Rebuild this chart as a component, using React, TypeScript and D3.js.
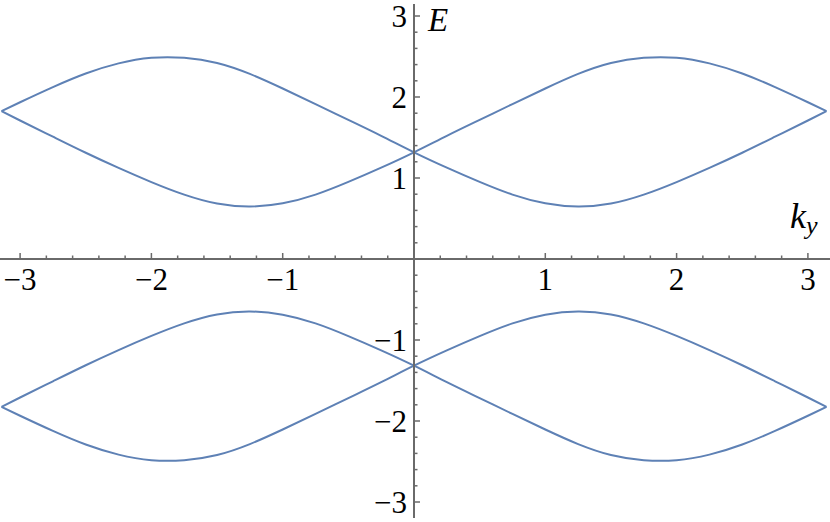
import React from "react";
import * as d3 from "d3";

// k_y sample points (read along the horizontal axis)
const kValues = [
  -Math.PI, -3, -2.75, -2.5, -2.25, -2, -1.75, -1.5, -1.25, -1, -0.75, -0.5, -0.25,
  0, 0.25, 0.5, 0.75, 1, 1.25, 1.5, 1.75, 2, 2.25, 2.5, 2.75, 3, Math.PI,
];

// upper band, branch that peaks on the left
const upperLeftPeak = [
  1.825, 1.935, 2.122, 2.29, 2.415, 2.484, 2.484, 2.42, 2.285, 2.105, 1.913, 1.717, 1.52,
  1.317, 1.128, 0.952, 0.795, 0.688, 0.648, 0.685, 0.795, 0.95, 1.125, 1.312, 1.51, 1.71, 1.825,
];
// upper band, branch that peaks on the right
const upperRightPeak = [
  1.825, 1.71, 1.51, 1.312, 1.125, 0.95, 0.795, 0.685, 0.648, 0.688, 0.795, 0.952, 1.128,
  1.317, 1.52, 1.717, 1.913, 2.105, 2.285, 2.42, 2.484, 2.484, 2.415, 2.29, 2.122, 1.935, 1.825,
];
// lower band
const lowerLeftDip = [
  -1.825, -1.935, -2.122, -2.29, -2.415, -2.484, -2.484, -2.42, -2.285, -2.105, -1.913, -1.717, -1.52,
  -1.317, -1.128, -0.952, -0.795, -0.688, -0.648, -0.685, -0.795, -0.95, -1.125, -1.312, -1.51, -1.71, -1.825,
];
const lowerRightDip = [
  -1.825, -1.71, -1.51, -1.312, -1.125, -0.95, -0.795, -0.685, -0.648, -0.688, -0.795, -0.952, -1.128,
  -1.317, -1.52, -1.717, -1.913, -2.105, -2.285, -2.42, -2.484, -2.484, -2.415, -2.29, -2.122, -1.935, -1.825,
];

const xMajorTicks = [-3, -2, -1, 1, 2, 3];
const yMajorTicks = [-3, -2, -1, 1, 2, 3];
const xTickLabels = ["\u22123", "\u22122", "\u22121", "1", "2", "3"];
const yTickLabels = ["\u22123", "\u22122", "\u22121", "1", "2", "3"];

const W = 830;
const H = 522;
const lineColor = "#5e81b5";
const axisColor = "#6a6a6a";
const serif = "Liberation Serif";

export default function App() {
  const x = d3.scaleLinear().domain([-Math.PI, Math.PI]).range([414 - 131.3 * Math.PI, 414 + 131.3 * Math.PI]);
  const y = d3.scaleLinear().domain([-3.2, 3.2]).range([259 + 81 * 3.2, 259 - 81 * 3.2]);

  const line = d3
    .line<number>()
    .x((d, i) => x(kValues[i]))
    .y((d) => y(d))
    .curve(d3.curveNatural);

  const series = [upperLeftPeak, upperRightPeak, lowerLeftDip, lowerRightDip];

  // minor ticks every 0.2 between the majors
  const xMinor = d3.range(-30, 31).filter((i) => i % 2 === 0 && i % 10 !== 0).map((i) => i / 10);
  const yMinor = d3.range(-30, 31).filter((i) => i % 2 === 0 && i % 10 !== 0).map((i) => i / 10);

  const x0 = x(0);
  const y0 = y(0);

  return (
    <svg width={W} height={H} fontFamily={serif} style={{ position: "absolute", left: 0, top: 0, background: "#fff" }}>
      <g fill="none" stroke={lineColor} strokeWidth={2}>
        {series.map((s, i) => (
          <path key={i} d={line(s) || ""} />
        ))}
      </g>

      {/* x axis */}
      <line x1={0} x2={W} y1={y0} y2={y0} stroke={axisColor} strokeWidth={2} />
      {xMinor.map((v, i) => (
        <line key={"xm" + i} x1={x(v)} x2={x(v)} y1={y0} y2={y0 - 3.5} stroke={axisColor} strokeWidth={1.5} />
      ))}
      {xMajorTicks.map((v, i) => (
        <g key={"xM" + i}>
          <line x1={x(v)} x2={x(v)} y1={y0} y2={y0 - 6} stroke={axisColor} strokeWidth={1.5} />
          <text x={x(v)} y={y0 + 31} textAnchor="middle" fontSize={31} fill="#000">
            {xTickLabels[i]}
          </text>
        </g>
      ))}

      {/* y axis */}
      <line x1={x0} x2={x0} y1={4} y2={518} stroke={axisColor} strokeWidth={2} />
      {yMinor.map((v, i) => (
        <line key={"ym" + i} x1={x0} x2={x0 + 3.5} y1={y(v)} y2={y(v)} stroke={axisColor} strokeWidth={1.5} />
      ))}
      {yMajorTicks.map((v, i) => (
        <g key={"yM" + i}>
          <line x1={x0} x2={x0 + 6} y1={y(v)} y2={y(v)} stroke={axisColor} strokeWidth={1.5} />
          <text x={x0 - 7} y={y(v)} dy="0.34em" textAnchor="end" fontSize={31} fill="#000">
            {yTickLabels[i]}
          </text>
        </g>
      ))}

      {/* axis labels */}
      <text x={428} y={31} fontStyle="italic" fontSize={33} fill="#000">
        E
      </text>
      <text x={790} y={228} fontStyle="italic" fontSize={36} fill="#000">
        k
        <tspan fontSize={26} dy={6}>
          y
        </tspan>
      </text>
    </svg>
  );
}
